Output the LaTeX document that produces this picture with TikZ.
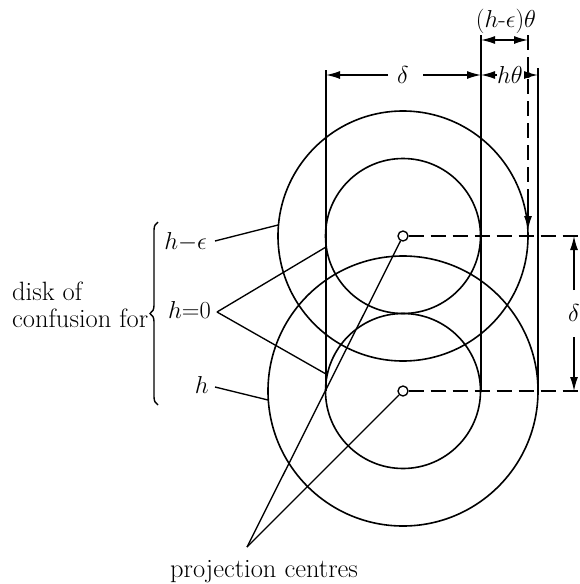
\RequirePackage{fix-cm}
\documentclass[tikz,border=0pt]{standalone}
\usetikzlibrary{arrows.meta,decorations.pathreplacing}
\begin{document}
\begin{tikzpicture}[x=1pt,y=-1pt,
  ring/.style={draw, line width=1.6pt},
  thinline/.style={line width=1.35pt},
  lab/.style={inner sep=0pt, font=\fontsize{24.5}{29}\selectfont},
  txt/.style={inner sep=0pt, font=\fontsize{26.5}{31}\selectfont},
  dimarrow/.style={line width=1.35pt, -{Latex[length=14pt,width=8pt]}},
  dashedline/.style={line width=1.35pt, dash pattern=on 15pt off 7pt},
  pc/.style={circle, draw, fill=white, minimum size=10pt, inner sep=0pt, line width=1.35pt}
]
\useasboundingbox (0,0) rectangle (580,584);
% circles
\draw[ring] (403,236) circle[radius=125pt];
\draw[ring] (403,236) circle[radius=77.5pt];
\draw[ring] (403,391) circle[radius=135pt];
\draw[ring] (403,391) circle[radius=77.5pt];
% coordinates for extension lines
\coordinate (L1t) at (326,70);  \coordinate (L1b) at (326,391);
\coordinate (L2t) at (481,35);  \coordinate (L2b) at (481,391);
\coordinate (L3t) at (528,35);  \coordinate (L3b) at (528,230);
\coordinate (L4t) at (538,68);  \coordinate (L4b) at (538,391);
\draw[thinline] (L1t) -- (L1b);
\draw[thinline] (L2t) -- (L2b);
\draw[thinline] (L4t) -- (L4b);
\draw[dashedline] (L3t) -- (528,208);
\draw[dimarrow] (528,203) -- (L3b);
% projection centres
\node[pc] (P1) at (403,236) {};
\node[pc] (P2) at (403,391) {};
\coordinate (A) at (247,547);
\draw[thinline] (A) -- (P1);
\draw[thinline] (A) -- (P2);
\coordinate (R1) at (580,236);
\coordinate (R2) at (580,391);
\draw[dashedline] (P1.east) -- (R1);
\draw[dashedline] (P2.east) -- (R2);
% top delta dimension
\node[lab] (dtop) at (403,75) {$\delta$};
\draw[dimarrow] (388,75) -- (326,75);
\draw[dimarrow] (423,75) -- (481,75);
% (h-e)theta dimension
\draw[dimarrow] (505,40) -- (481,40);
\draw[dimarrow] (505,40) -- (528,40);
\node[lab, anchor=base] (het) at (506,27) {$(h\mbox{-}\epsilon)\theta$};
% h theta dimension
\node[lab, anchor=base west] (ht) at (497,83) {$h\theta$};
\draw[dimarrow] (497,75) -- (481,75);
\draw[dimarrow] (528,75) -- (538,75);
\fill (528,75) circle[radius=3pt];
% right delta dimension
\node[lab] (dright) at (574,313) {$\delta$};
\draw[dimarrow] (574,290) -- (574,236);
\draw[dimarrow] (574,337) -- (574,391);
% left labels
\node[lab, anchor=base east] (he) at (207,249) {$h{-}\epsilon$};
\node[lab, anchor=base east] (h0) at (211,318) {$h{=}0$};
\node[lab, anchor=base east] (hh) at (209,393) {$h$};
\coordinate (c1) at (278,225);
\coordinate (c2) at (326,247);
\coordinate (c3) at (326,374);
\coordinate (c4) at (268,400);
\draw[thinline] (215,241) -- (c1);
\draw[thinline] (217,312) -- (c2);
\draw[thinline] (217,312) -- (c3);
\draw[thinline] (215,387) -- (c4);
% brace
\coordinate (Bb) at (158,405);
\coordinate (Bt) at (158,222);
\draw[line width=1.4pt, decorate, decoration={brace, amplitude=8pt}] (Bb) -- (Bt);
\node[txt, anchor=base west] (disk) at (12,300) {disk of};
\node[txt, anchor=base west] (conf) at (12,327) {confusion for};
\node[txt, anchor=base west] (proj) at (170,577) {projection centres};
\end{tikzpicture}
\end{document}
